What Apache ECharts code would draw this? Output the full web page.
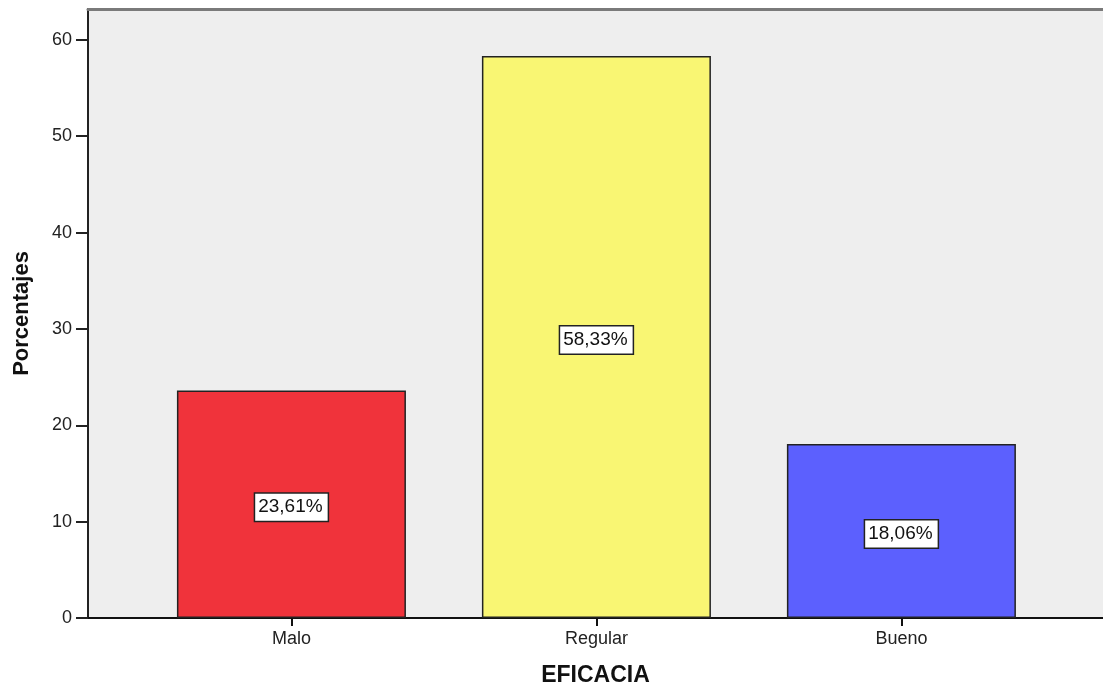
<!DOCTYPE html>
<html>
<head>
<meta charset="utf-8">
<script src="https://cdn.jsdelivr.net/npm/echarts@6/dist/echarts.min.js"></script>
<style>
  html, body { margin: 0; padding: 0; background: #ffffff; }
  #chart { width: 1103px; height: 686px; }
</style>
</head>
<body>
<div id="chart"></div>
<script>
// EFICACIA – distribución porcentual
const categories = ['Malo', 'Regular', 'Bueno'];
const percentages = [23.61, 58.33, 18.06];
const barColors = ['#f0333b', '#f9f673', '#5c60fe'];
const yTicks = [0, 10, 20, 30, 40, 50, 60];
const catPositions = [0, 1, 2];

const FONT = '"Liberation Sans", Arial, sans-serif';

const chart = echarts.init(document.getElementById('chart'), null, { renderer: 'canvas' });

const fmtPct = v => v.toFixed(2).replace('.', ',') + '%';

chart.setOption({
  animation: false,
  backgroundColor: '#ffffff',
  grid: {
    left: 88, right: 0, top: 9, bottom: 68,
    outerBoundsMode: 'none',
    containLabel: false,
    show: true, backgroundColor: '#eeeeee', borderWidth: 0
  },
  xAxis: [
    {
      type: 'value',
      min: -0.667, max: 2.661,
      position: 'bottom',
      name: 'EFICACIA',
      nameLocation: 'middle',
      nameGap: 46,
      nameTextStyle: { fontFamily: FONT, fontSize: 23, fontWeight: 'bold', color: '#111' },
      axisLine: { show: true, onZero: false, lineStyle: { color: '#111', width: 2 } },
      axisTick: { show: true, length: 8, customValues: catPositions, lineStyle: { color: '#111', width: 2 } },
      axisLabel: {
        customValues: catPositions,
        margin: 12,
        fontFamily: FONT, fontSize: 18, color: '#222',
        formatter: v => categories[Math.round(v)] || ''
      },
      splitLine: { show: false }
    },
    {
      type: 'value',
      min: -0.667, max: 2.661,
      position: 'top',
      axisLine: { show: true, onZero: false, lineStyle: { color: '#7a7a7a', width: 3 } },
      axisTick: { show: false },
      axisLabel: { show: false },
      splitLine: { show: false }
    }
  ],
  yAxis: {
    type: 'value',
    min: 0, max: 63.2,
    name: 'Porcentajes',
    nameLocation: 'middle',
    nameGap: 55,
    nameTextStyle: { fontFamily: FONT, fontSize: 22, fontWeight: 'bold', color: '#111' },
    axisLine: { show: true, onZero: false, lineStyle: { color: '#222', width: 2 } },
    axisTick: { show: true, length: 12, customValues: yTicks, lineStyle: { color: '#222', width: 2 } },
    axisLabel: {
      customValues: yTicks,
      margin: 16,
      fontFamily: FONT, fontSize: 18, color: '#222'
    },
    splitLine: { show: false }
  },
  series: [{
    type: 'bar',
    xAxisIndex: 0,
    barWidth: 229,
    data: percentages.map((v, i) => ({
      value: [catPositions[i], v],
      itemStyle: { color: barColors[i] }
    })),
    itemStyle: { borderColor: '#222', borderWidth: 1.5 },
    label: {
      show: true,
      position: 'inside',
      offset: [0, 3],
      formatter: p => fmtPct(p.value[1]),
      fontFamily: FONT, fontSize: 19, color: '#111',
      backgroundColor: '#ffffff',
      borderColor: '#222', borderWidth: 1.5,
      padding: [5, 5, 3, 3]
    }
  }]
});
</script>
</body>
</html>
